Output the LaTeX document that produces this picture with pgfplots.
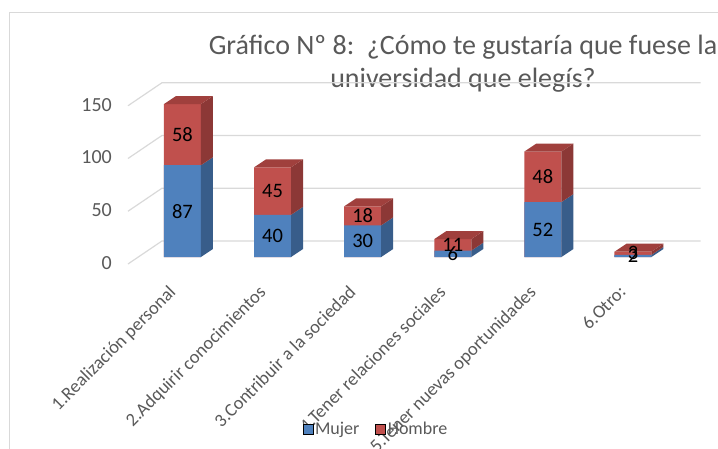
\documentclass[border=0pt]{standalone}
\usepackage{pgfplots}
\pgfplotsset{compat=1.18}
\usepackage{pgfplotstable}
\usepackage{fontspec}
\setmainfont{Carlito}
\definecolor{blueF}{HTML}{4F81BD}
\definecolor{blueS}{HTML}{385D8A}
\definecolor{redF}{HTML}{C0504D}
\definecolor{redS}{HTML}{8C3836}
\definecolor{redT}{HTML}{A0403D}
\definecolor{txtgray}{HTML}{595959}
\definecolor{gridgray}{HTML}{D9D9D9}

\pgfplotstableread{
x mujer hombre
0 87 58
1 40 45
2 30 18
3 6 11
4 52 48
5 2 3
}\datatable

\newcommand{\sideface}[4]{\fill[#4] ([xshift=18.5pt]axis cs:#1,#2) -- ([xshift=18.5pt]axis cs:#1,#3) -- ([xshift=30.5pt,yshift=8pt]axis cs:#1,#3) -- ([xshift=30.5pt,yshift=8pt]axis cs:#1,#2) -- cycle;}
\newcommand{\topface}[3]{\fill[#3] ([xshift=-18.5pt]axis cs:#1,#2) -- ([xshift=18.5pt]axis cs:#1,#2) -- ([xshift=30.5pt,yshift=8pt]axis cs:#1,#2) -- ([xshift=-6.5pt,yshift=8pt]axis cs:#1,#2) -- cycle;}
\newcommand{\gridl}[1]{\draw[gridgray, line width=1.2pt] ([yshift=-7pt]axis cs:-0.605,#1) -- ([yshift=16pt]axis cs:-0.228,#1) -- ([yshift=16pt]axis cs:5.75,#1);}

\begin{document}
\begin{tikzpicture}
\useasboundingbox (0,0) rectangle (718pt,448pt);
\draw[gridgray, line width=1pt] (9pt,-10pt) -- (9pt,435pt) -- (730pt,435pt);
\node[txtgray, font=\fontsize{28}{33}\selectfont, align=center] at (463pt,384.5pt) {Gráfico Nº 8:\ \ ¿Cómo te gustaría que fuese la\\universidad que elegís?};
\begin{axis}[
  at={(110.4pt,191pt)}, anchor=south west,
  scale only axis, width=594.66pt, height=168.8pt,
  xmin=-0.8, xmax=5.8, ymin=0, ymax=160,
  clip=false,
  axis line style={draw=none},
  major tick length=0pt,
  ytick={0,50,100,150},
  xtick={0,...,5},
  xticklabels={1.Realización personal, 2.Adquirir conocimientos, 3.Contribuir a la sociedad, 4.Tener relaciones sociales, 5.Tener nuevas oportunidades, 6.Otro:},
  /pgf/number format/assume math mode=true,
  yticklabel style={txtgray, font=\fontsize{20}{20}\selectfont, inner sep=0pt, anchor=east, xshift=1.6pt, yshift=-6pt},
  xticklabel style={txtgray, font=\fontsize{18.5}{18.5}\selectfont, inner sep=0pt, xshift=-15pt, yshift=-27pt, rotate=45, anchor=north east},
  legend style={at={(0.4466,-1.019)}, anchor=center, draw=none, fill=none, legend columns=2,
    font=\fontsize{18}{18}\selectfont, text=txtgray,
    /tikz/every even column/.append style={column sep=14pt}},
  legend image code/.code={\fill[#1] (0pt,-5pt) rectangle (10pt,5pt);},
]
\gridl{0}\gridl{50}\gridl{100}\gridl{150}
\addplot[ybar, bar width=37pt, bar shift=0pt, fill=redF, draw=none, forget plot]
  table[x=x, y expr=\thisrow{mujer}+\thisrow{hombre}] {\datatable};
\addplot[ybar, bar width=37pt, bar shift=0pt, fill=blueF, draw=none, forget plot]
  table[x=x, y=mujer] {\datatable};
\pgfplotsinvokeforeach{0,...,5}{
  \pgfplotstablegetelem{#1}{mujer}\of\datatable \let\m\pgfplotsretval
  \pgfplotstablegetelem{#1}{hombre}\of\datatable \let\h\pgfplotsretval
  \pgfmathsetmacro\t{\m+\h}
  \edef\tmp{\noexpand\sideface{#1}{0}{\m}{blueS}\noexpand\sideface{#1}{\m}{\t}{redS}\noexpand\topface{#1}{\t}{redT}}
  \tmp
}
\addplot[forget plot, only marks, mark=*, mark size=0pt, mark options={draw=none,fill=none},
  point meta=explicit, nodes near coords,
  nodes near coords style={black, font=\fontsize{20.5}{20.5}\selectfont, anchor=center}]
  table[x=x, y expr=\thisrow{mujer}/2, meta=mujer] {\datatable};
\addplot[forget plot, only marks, mark=*, mark size=0pt, mark options={draw=none,fill=none},
  point meta=explicit, nodes near coords,
  nodes near coords style={black, font=\fontsize{20.5}{20.5}\selectfont, anchor=center}]
  table[x=x, y expr=\thisrow{mujer}+\thisrow{hombre}/2, meta=hombre] {\datatable};
\addlegendimage{fill=blueF}
\addlegendentry{Mujer}
\addlegendimage{fill=redF}
\addlegendentry{Hombre}
\end{axis}
\end{tikzpicture}
\end{document}
